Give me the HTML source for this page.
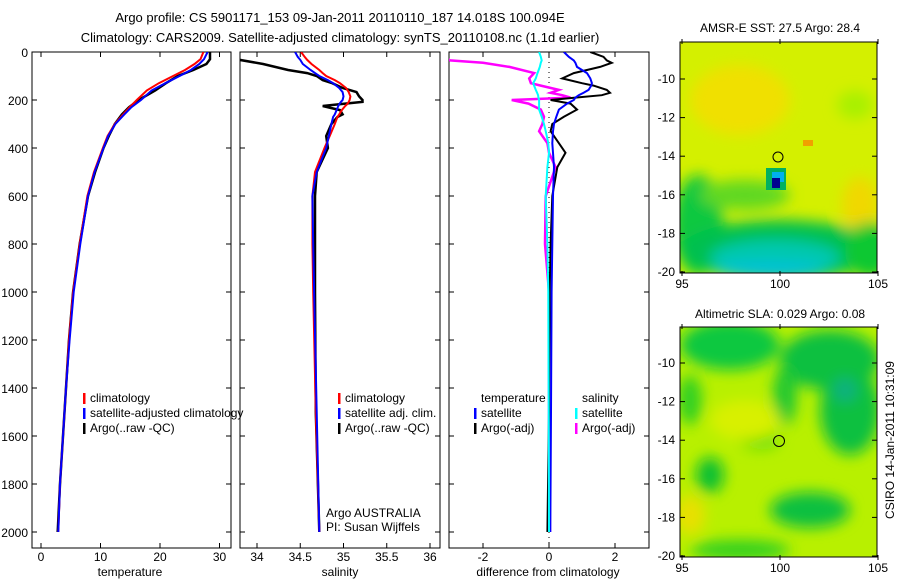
<!DOCTYPE html>
<html><head><meta charset="utf-8"><style>
html,body{margin:0;background:#fff;overflow:hidden;width:900px;height:580px;}
svg{display:block;font-family:"Liberation Sans",sans-serif;}
</style></head><body>
<svg id="fig" width="900" height="580" viewBox="0 0 900 580">
<defs>
<filter id="blur" x="-30%" y="-30%" width="160%" height="160%"><feGaussianBlur stdDeviation="7"/></filter>
<clipPath id="c1"><rect x="32" y="52" width="199" height="496"/></clipPath>
<clipPath id="c2"><rect x="240" y="52" width="200" height="496"/></clipPath>
<clipPath id="c3"><rect x="449" y="52" width="200" height="496"/></clipPath>
<clipPath id="m1"><rect x="680" y="42" width="197" height="231"/></clipPath>
<clipPath id="m2"><rect x="680" y="327" width="197" height="230"/></clipPath>
</defs>
<text x="340" y="22" font-size="13" text-anchor="middle">Argo profile: CS 5901171_153 09-Jan-2011 20110110_187 14.018S 100.094E</text>
<text x="340" y="42" font-size="13" text-anchor="middle">Climatology: CARS2009. Satellite-adjusted climatology: synTS_20110108.nc (1.1d earlier)</text>

<!-- SST map -->
<g clip-path="url(#m1)">
<rect x="680" y="42" width="197" height="231" fill="#d4f000"/>
<g filter="url(#blur)">
<ellipse cx="740" cy="100" rx="50" ry="35" fill="#f0e000"/>
<ellipse cx="860" cy="205" rx="18" ry="28" fill="#f0d800"/>
<ellipse cx="855" cy="105" rx="18" ry="14" fill="#a8f000"/>
<ellipse cx="698" cy="225" rx="25" ry="50" fill="#10c840"/>
<ellipse cx="780" cy="250" rx="100" ry="30" fill="#00c050"/>
<ellipse cx="870" cy="250" rx="25" ry="28" fill="#10c830"/>
<ellipse cx="745" cy="195" rx="45" ry="15" fill="#60d820"/>
<ellipse cx="775" cy="258" rx="65" ry="18" fill="#00c8b0"/>
<ellipse cx="770" cy="270" rx="55" ry="7" fill="#00c0e0"/>
</g>
<rect x="766" y="168" width="20" height="22" fill="#00b060"/>
<rect x="772" y="172" width="12" height="10" fill="#00b0f0"/>
<rect x="772" y="178" width="8" height="10" fill="#000090"/>
<rect x="803" y="140" width="10" height="6" fill="#f0a000"/>
</g>
<rect x="680" y="42" width="197" height="231" fill="none" stroke="#000"/>
<text x="780" y="32" font-size="12" text-anchor="middle">AMSR-E SST: 27.5 Argo: 28.4</text>
<circle cx="778" cy="157" r="5" fill="none" stroke="#000"/>

<!-- SLA map -->
<g clip-path="url(#m2)">
<rect x="680" y="327" width="197" height="230" fill="#b8f000"/>
<g filter="url(#blur)">
<ellipse cx="730" cy="345" rx="50" ry="25" fill="#10c840"/>
<ellipse cx="830" cy="360" rx="50" ry="30" fill="#10c040"/>
<ellipse cx="850" cy="410" rx="30" ry="45" fill="#10c040"/>
<ellipse cx="845" cy="390" rx="12" ry="12" fill="#10b080"/>
<ellipse cx="785" cy="395" rx="12" ry="30" fill="#20c830"/>
<ellipse cx="690" cy="400" rx="12" ry="25" fill="#30d020"/>
<ellipse cx="710" cy="475" rx="14" ry="18" fill="#10c030"/>
<ellipse cx="810" cy="510" rx="40" ry="18" fill="#10c040"/>
<ellipse cx="760" cy="440" rx="20" ry="10" fill="#70e010"/>
<ellipse cx="690" cy="515" rx="15" ry="20" fill="#e8e000"/>
<ellipse cx="745" cy="420" rx="35" ry="20" fill="#d8f000"/>
<ellipse cx="740" cy="550" rx="50" ry="10" fill="#30d020"/>
</g>
</g>
<rect x="680" y="327" width="197" height="230" fill="none" stroke="#000"/>
<text x="780" y="318" font-size="12" text-anchor="middle">Altimetric SLA: 0.029 Argo: 0.08</text>
<circle cx="779" cy="441" r="5.5" fill="none" stroke="#000"/>
<text x="0" y="0" font-size="12" transform="translate(894,440) rotate(-90)" text-anchor="middle">CSIRO 14-Jan-2011 10:31:09</text>

<g id="plots"></g>
</svg>
<script>
// ---- data ----
const tDepth = [0,30,50,75,100,130,160,200,230,260,300,350,400,500,600,800,1000,1200,1400,1600,1800,2000];
const tClim  = [27.3,26.8,25.8,24.2,22.2,19.8,17.8,16.1,14.9,13.8,12.4,11.2,10.4,8.9,7.8,6.5,5.4,4.7,4.2,3.7,3.2,2.9];
const tSat   = [28.0,27.4,26.6,25.2,23.3,20.9,18.6,16.8,15.2,14.0,12.5,11.3,10.5,9.0,7.9,6.6,5.5,4.8,4.2,3.7,3.2,2.9];
const tArgo  = [28.4,28.4,27.8,25.6,23.0,21.0,19.2,16.4,14.8,13.6,12.4,11.4,10.5,9.1,7.9,6.5,5.4,4.7,4.2,3.7,3.2,2.8];
const sDepth = [0,20,33,50,75,88,100,117,130,150,167,185,200,208,218,225,242,260,271,300,350,400,500,600,800,1000,1500,2000];
const sClim  = [34.51,34.55,34.58,34.63,34.72,34.76,34.80,34.90,34.96,35.03,35.06,35.08,35.07,35.06,35.04,35.02,34.98,34.95,34.93,34.90,34.84,34.78,34.67,34.64,34.64,34.65,34.68,34.72];
const sSat   = [34.44,34.47,34.50,34.53,34.62,34.67,34.72,34.82,34.88,34.95,34.99,35.00,34.99,34.97,34.95,34.94,34.92,34.90,34.88,34.86,34.83,34.80,34.69,34.64,34.65,34.66,34.69,34.72];
const sArgo  = [33.70,33.75,33.80,34.07,34.36,34.58,34.69,34.76,34.87,34.99,35.15,35.18,35.22,35.22,34.95,34.76,34.96,34.99,34.93,34.86,34.80,34.82,34.69,34.67,34.67,34.67,34.68,34.72];
const dDepth = [0,20,35,45,62,88,110,130,140,158,170,180,190,200,215,240,270,300,330,380,420,480,600,800,1000,1500,2000];
const dTSat  = [0.45,0.6,0.75,0.8,0.85,1.15,1.25,1.3,1.28,1.2,1.05,0.9,0.8,0.75,0.55,0.3,0.22,0.15,0.12,0.1,0.12,0.15,0.12,0.1,0.08,0.06,0.04];
const dTArgo = [1.25,1.65,1.75,1.9,1.55,0.75,0.4,1.0,1.35,1.75,1.85,1.6,0.8,0.05,0.65,0.85,0.45,0.1,0.05,0.3,0.5,0.25,0.1,0.05,0.02,0.0,-0.05];
const dSSat  = [-0.3,-0.25,-0.22,-0.25,-0.28,-0.35,-0.4,-0.48,-0.45,-0.4,-0.36,-0.33,-0.32,-0.3,-0.3,-0.3,-0.22,-0.15,-0.1,-0.02,0.0,-0.05,-0.1,-0.05,-0.02,-0.01,0.0];
const dSArgo = [-3.2,-3.2,-3.0,-2.0,-1.2,-0.45,-0.6,-0.55,-0.25,0.3,0.05,0.4,0.65,-1.13,-0.62,-0.25,-0.15,-0.2,-0.3,-0.05,0.0,0.2,-0.1,-0.12,0.0,0.0,0.03];
const depthTicks = [0,200,400,600,800,1000,1200,1400,1600,1800,2000];
const tTicks = [0,10,20,30];
const sTicks = [34,34.5,35,35.5,36];
const sTickLabels = ["34","34.5","35","35.5","36"];
const dTicks = [-2,0,2];
const latTicks = [-10,-12,-14,-16,-18,-20];
const lonTicks = [95,100,105];
// ---- axes ----
const NS='http://www.w3.org/2000/svg';
const root=document.getElementById('plots');
const yD=d=>52+d*0.24;
const xT=v=>41+v*5.95;
const xS=v=>257+(v-34)*86.5;
const xDf=v=>549+v*33;
const lon1=v=>682+(v-95)*19.6;
const lat1=v=>272-(v+20)*19.3;
const lat2=v=>556-(v+20)*19.3;
function mk(tag,attrs,parent){const e=document.createElementNS(NS,tag);for(const k in attrs)e.setAttribute(k,attrs[k]);(parent||root).appendChild(e);return e;}
function txt(x,y,s,anchor,size){const e=mk('text',{x:x,y:y,'font-size':size||12,'text-anchor':anchor||'start'});e.textContent=s;return e;}
function frame(x0,x1,name){const r=mk('rect',{x:x0,y:52,width:x1-x0,height:496,fill:'none',stroke:'#000'});}
function line(depths,vals,xf,color,clip,name,w){
  const pts=depths.map((d,i)=>xf(vals[i]).toFixed(1)+','+yD(d).toFixed(1)).join(' ');
  const p=mk('polyline',{points:pts,fill:'none',stroke:color,'stroke-width':w||2,'clip-path':'url(#'+clip+')'});
  
  
}
function xticks(ticks,labels,xf,name){
  ticks.forEach((t,i)=>{const X=xf(t);mk('line',{x1:X,x2:X,y1:52,y2:57,stroke:'#000'});mk('line',{x1:X,x2:X,y1:543,y2:548,stroke:'#000'});
    const e=txt(X,561,labels[i],'middle');});
}
function ydepth(x0,x1,labels){
  depthTicks.forEach(d=>{const Y=yD(d);mk('line',{x1:x0,x2:x0+5,y1:Y,y2:Y,stroke:'#000'});mk('line',{x1:x1-5,x2:x1,y1:Y,y2:Y,stroke:'#000'});
    if(labels){const e=txt(28,Y+5,String(d),'end');}});
}
function legend(x,y,color,label,name){
  mk('rect',{x:x,y:y-9,width:2.5,height:11,fill:color});
  const e=txt(x+7,y,label);
}
// panel 1
frame(32,231,'temperature-panel');ydepth(32,231,true);
xticks(tTicks,tTicks.map(String),xT,'temperature');
line(tDepth,tArgo,xT,'#000','c1','temp-argo-line',2.5);
line(tDepth,tClim,xT,'#f00','c1','temp-climatology-line');
line(tDepth,tSat,xT,'#00f','c1','temp-satellite-line');
legend(83,402,'#f00','climatology','legend-climatology');
legend(83,417,'#00f','satellite-adjusted climatology','legend-satellite-adjusted');
legend(83,432,'#000','Argo(..raw -QC)','legend-argo');
let e=txt(130,576,'temperature','middle');
// panel 2
frame(240,440,'salinity-panel');ydepth(240,440,false);
xticks(sTicks,sTickLabels,xS,'salinity');
line(sDepth,sArgo,xS,'#000','c2','sal-argo-line',2.5);
line(sDepth,sClim,xS,'#f00','c2','sal-climatology-line');
line(sDepth,sSat,xS,'#00f','c2','sal-satellite-line');
legend(338,402,'#f00','climatology','legend-sal-climatology');
legend(338,417,'#00f','satellite adj. clim.','legend-sal-satellite');
legend(338,432,'#000','Argo(..raw -QC)','legend-sal-argo');
e=txt(326,517,'Argo AUSTRALIA');
e=txt(326,531,'PI: Susan Wijffels');
e=txt(340,576,'salinity','middle');
// panel 3
frame(449,649,'difference-panel');ydepth(449,649,false);
xticks(dTicks,dTicks.map(String),xDf,'difference');
mk('line',{x1:xDf(0),x2:xDf(0),y1:52,y2:548,stroke:'#000','stroke-dasharray':'1,4'});
line(dDepth,dSArgo,xDf,'#f0f','c3','diff-sal-argo-line',2.5);
line(dDepth,dTArgo,xDf,'#000','c3','diff-temp-argo-line');
line(dDepth,dTSat,xDf,'#00f','c3','diff-temp-satellite-line');
line(dDepth,dSSat,xDf,'#0ff','c3','diff-sal-satellite-line');
e=txt(481,402,'temperature');
e=txt(582,402,'salinity');
legend(474,417,'#00f','satellite','legend-diff-temp-satellite');
legend(474,432,'#000','Argo(-adj)','legend-diff-temp-argo');
legend(575,417,'#0ff','satellite','legend-diff-sal-satellite');
legend(575,432,'#f0f','Argo(-adj)','legend-diff-sal-argo');
e=txt(548,576,'difference from climatology','middle');
// map ticks
function mapTicks(latf,top,bot){
  latTicks.forEach(l=>{const Y=latf(l);mk('line',{x1:680,x2:685,y1:Y,y2:Y,stroke:'#000'});mk('line',{x1:872,x2:877,y1:Y,y2:Y,stroke:'#000'});
    const t=txt(675,Y+4,String(l),'end');});
  lonTicks.forEach(l=>{const X=lon1(l);mk('line',{x1:X,x2:X,y1:top-3,y2:top+2,stroke:'#000'});mk('line',{x1:X,x2:X,y1:bot-2,y2:bot+3,stroke:'#000'});
    const t=txt(X,bot+15,String(l),'middle');});
}
mapTicks(lat1,42,273);
mapTicks(lat2,327,557);
</script>
</body></html>
